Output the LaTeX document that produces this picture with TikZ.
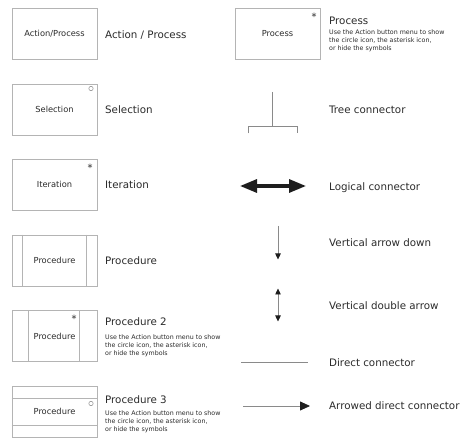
\documentclass[tikz,border=0pt]{standalone}
\usepackage{fontspec}
\setmainfont{DejaVu Sans}
\usetikzlibrary{arrows.meta}
\definecolor{boxgray}{HTML}{B4B4B4}
\definecolor{linegray}{HTML}{8A8A8A}
\definecolor{txt}{HTML}{2A2A2A}
\definecolor{headc}{HTML}{1E1E1E}
\begin{document}
\begin{tikzpicture}[x=1pt,y=-1pt,
 symbox/.style={draw=boxgray, line width=0.9pt, minimum width=85pt, minimum height=51pt, inner sep=0pt, text=txt, font=\fontsize{8.3}{10}\selectfont},
 lab/.style={anchor=west, inner sep=0pt, text=txt, font=\fontsize{10.3}{12}\selectfont},
 desc/.style={anchor=north west, inner sep=0pt, text=txt, align=left, font=\fontsize{6.3}{8}\selectfont},
 star/.style={inner sep=0pt, text=txt, font=\fontsize{10}{10}\selectfont},
 mark circle/.style={draw=linegray, line width=0.5pt, circle, minimum size=4.4pt, inner sep=0pt},
 innerline/.style={draw=boxgray, line width=0.9pt},
 treeline/.style={draw=linegray, line width=0.8pt},
 thinarrow/.style={draw=linegray, line width=0.7pt, -{Triangle[length=6pt,width=5.5pt,fill=headc,color=headc]}},
]
\useasboundingbox (0,0) rectangle (474,446);

% left column boxes
\node[symbox] (ap) at (54.5,33.5) {Action/Process};
\node[lab] (apl) at (105,35) {Action / Process};

\node[symbox] (sel) at (54.5,109.5) {Selection};
\node[mark circle] (selc) at (91,88.5) {};
\node[lab] (sell) at (105,110) {Selection};

\node[symbox] (it) at (54.5,184.5) {Iteration};
\node[star] (its) at (90,167.5) {*};
\node[lab] (itl) at (105,185) {Iteration};

\node[symbox] (pr) at (54.5,260.5) {Procedure};
\draw[innerline] ([xshift=11pt]pr.north west) -- ([xshift=11pt]pr.south west);
\draw[innerline] ([xshift=-11pt]pr.north east) -- ([xshift=-11pt]pr.south east);
\node[lab] (prl) at (105,261) {Procedure};

\node[symbox] (pr2) at (54.5,336) {Procedure};
\draw[innerline] ([xshift=17pt]pr2.north west) -- ([xshift=17pt]pr2.south west);
\draw[innerline] ([xshift=-18pt]pr2.north east) -- ([xshift=-18pt]pr2.south east);
\node[star] (pr2s) at (74,318.5) {*};
\node[lab] (pr2l) at (105,322) {Procedure 2};
\node[desc] (pr2d) at (105,334.3) {Use the Action button menu to show\\the circle icon, the asterisk icon,\\or hide the symbols};

\node[symbox] (pr3) at (54.5,411.5) {Procedure};
\draw[innerline] ([yshift=-12.5pt]pr3.north west) -- ([yshift=-12.5pt]pr3.north east);
\draw[innerline] ([yshift=12.5pt]pr3.south west) -- ([yshift=12.5pt]pr3.south east);
\node[mark circle] (pr3c) at (91,403.5) {};
\node[lab] (pr3l) at (105,400) {Procedure 3};
\node[desc] (pr3d) at (105,410.3) {Use the Action button menu to show\\the circle icon, the asterisk icon,\\or hide the symbols};

% right column
\node[symbox] (pc) at (277.5,34) {Process};
\node[star] (pcs) at (314,16.5) {*};
\node[lab] (pcl) at (329,21) {Process};
\node[desc] (pcd) at (329,29.3) {Use the Action button menu to show\\the circle icon, the asterisk icon,\\or hide the symbols};

% tree connector
\coordinate (t0) at (272,92);
\coordinate (t1) at (272,126);
\coordinate (tl) at (248,126);
\coordinate (tr) at (297,126);
\coordinate (tlb) at (248,133.5);
\coordinate (trb) at (297,133.5);
\draw[treeline] (t0) -- (t1);
\draw[treeline] (tlb) -- (tl) -- (tr) -- (trb);
\node[lab] (tcl) at (329,110) {Tree connector};

% logical connector
\coordinate (lg0) at (240,186);
\coordinate (lg1) at (306,186);
\draw[draw=headc, line width=3.2pt, {Triangle[length=17pt,width=13pt]}-{Triangle[length=17pt,width=13pt]}] (lg0) -- (lg1);
\node[lab] (lgl) at (329,188) {Logical connector};

% vertical arrow down
\coordinate (vd0) at (278,226);
\coordinate (vd1) at (278,259.5);
\draw[thinarrow] (vd0) -- (vd1);
\node[lab] (vdl) at (329,243) {Vertical arrow down};

% vertical double arrow
\coordinate (vb0) at (278,288.5);
\coordinate (vb1) at (278,321.5);
\draw[draw=linegray, line width=0.7pt, {Triangle[length=6pt,width=5.5pt,fill=headc,color=headc]}-{Triangle[length=6pt,width=5.5pt,fill=headc,color=headc]}] (vb0) -- (vb1);
\node[lab] (vbl) at (329,306) {Vertical double arrow};

% direct connector
\coordinate (dc0) at (241,362);
\coordinate (dc1) at (308,362);
\draw[draw=linegray, line width=0.8pt] (dc0) -- (dc1);
\node[lab] (dcl) at (329,363) {Direct connector};

% arrowed direct connector
\coordinate (ad0) at (243,406);
\coordinate (ad1) at (310,406);
\draw[draw=linegray, line width=0.8pt, -{Triangle[length=10pt,width=9pt,fill=headc,color=headc]}] (ad0) -- (ad1);
\node[lab] (adl) at (329,406) {Arrowed direct connector};
\end{tikzpicture}
\end{document}
